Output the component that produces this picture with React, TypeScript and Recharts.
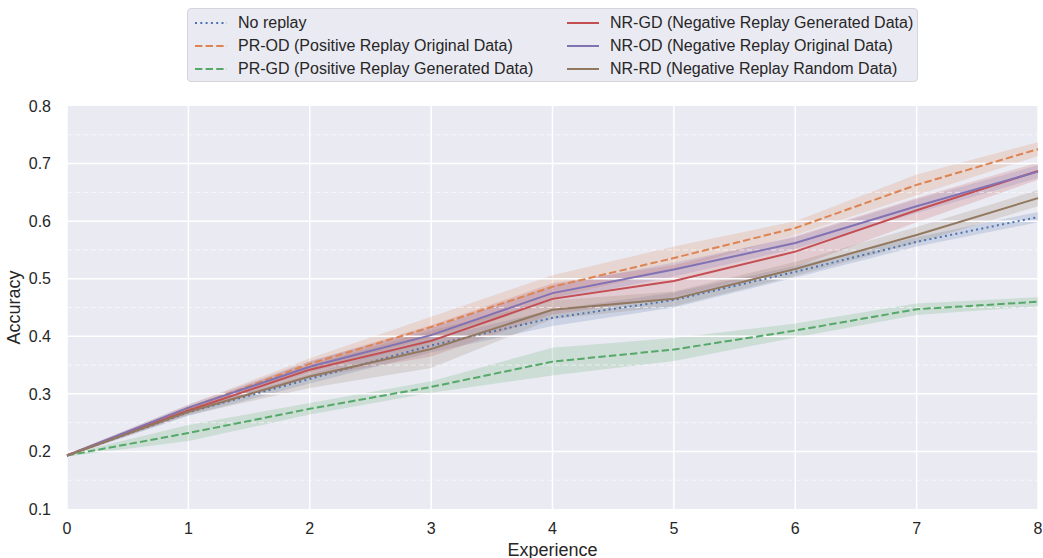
import React from "react";
import {
  ComposedChart, Line, Area, XAxis, YAxis, CartesianGrid, ReferenceLine,
} from "recharts";

// experience index (x axis)
const experiences = [0, 1, 2, 3, 4, 5, 6, 7, 8];

// mean accuracy per method, with band bounds
const noReplay = [0.193, 0.268, 0.326, 0.384, 0.432, 0.463, 0.512, 0.564, 0.607];
const noReplayLo = [0.191, 0.262, 0.318, 0.372, 0.418, 0.45, 0.502, 0.556, 0.598];
const noReplayHi = [0.195, 0.274, 0.334, 0.396, 0.446, 0.476, 0.522, 0.572, 0.616];

const prOD = [0.193, 0.275, 0.352, 0.416, 0.486, 0.536, 0.588, 0.663, 0.725];
const prODLo = [0.191, 0.269, 0.342, 0.398, 0.466, 0.516, 0.576, 0.645, 0.713];
const prODHi = [0.195, 0.281, 0.362, 0.434, 0.506, 0.556, 0.6, 0.681, 0.737];

const prGD = [0.193, 0.232, 0.274, 0.312, 0.356, 0.377, 0.41, 0.447, 0.46];
const prGDLo = [0.191, 0.218, 0.264, 0.302, 0.332, 0.357, 0.398, 0.437, 0.452];
const prGDHi = [0.195, 0.246, 0.284, 0.322, 0.38, 0.397, 0.422, 0.457, 0.468];

const nrGD = [0.193, 0.271, 0.342, 0.392, 0.465, 0.496, 0.547, 0.619, 0.687];
const nrGDLo = [0.191, 0.265, 0.328, 0.365, 0.438, 0.468, 0.52, 0.598, 0.672];
const nrGDHi = [0.195, 0.277, 0.356, 0.419, 0.492, 0.524, 0.574, 0.64, 0.702];

const nrOD = [0.193, 0.276, 0.347, 0.402, 0.475, 0.516, 0.562, 0.626, 0.686];
const nrODLo = [0.191, 0.271, 0.337, 0.39, 0.462, 0.504, 0.552, 0.614, 0.675];
const nrODHi = [0.195, 0.281, 0.357, 0.414, 0.488, 0.528, 0.572, 0.638, 0.697];

const nrRD = [0.193, 0.269, 0.33, 0.378, 0.446, 0.465, 0.517, 0.576, 0.64];
const nrRDLo = [0.191, 0.263, 0.31, 0.345, 0.43, 0.452, 0.505, 0.562, 0.626];
const nrRDHi = [0.195, 0.275, 0.35, 0.41, 0.462, 0.478, 0.529, 0.59, 0.654];

const yTicks = [0.1, 0.2, 0.3, 0.4, 0.5, 0.6, 0.7, 0.8];
const yMinor = [0.15, 0.25, 0.35, 0.45, 0.55, 0.65, 0.75];

const series = [
  { key: "nr", label: "No replay", color: "#4C72B0", mean: noReplay, lo: noReplayLo, hi: noReplayHi, dash: "2 3.3" },
  { key: "prod", label: "PR-OD (Positive Replay Original Data)", color: "#DD8452", mean: prOD, lo: prODLo, hi: prODHi, dash: "7.4 3.2" },
  { key: "prgd", label: "PR-GD (Positive Replay Generated Data)", color: "#55A868", mean: prGD, lo: prGDLo, hi: prGDHi, dash: "7.4 3.2" },
  { key: "nrgd", label: "NR-GD (Negative Replay Generated Data)", color: "#C44E52", mean: nrGD, lo: nrGDLo, hi: nrGDHi, dash: undefined },
  { key: "nrod", label: "NR-OD (Negative Replay Original Data)", color: "#8172B3", mean: nrOD, lo: nrODLo, hi: nrODHi, dash: undefined },
  { key: "nrrd", label: "NR-RD (Negative Replay Random Data)", color: "#937860", mean: nrRD, lo: nrRDLo, hi: nrRDHi, dash: undefined },
];

const data = experiences.map((x, i) => {
  const row: Record<string, any> = { x };
  series.forEach((s) => {
    row[s.key] = s.mean[i];
    row[s.key + "_band"] = [s.lo[i], s.hi[i]];
  });
  return row;
});

const FONT = "'Liberation Sans', Arial, sans-serif";
const INK = "#262626";

function LegendBox() {
  const item = (s: typeof series[number]) => (
    <div key={s.key} style={{ display: "flex", alignItems: "center", height: 23 }}>
      <svg width={34} height={10} style={{ marginRight: 10 }}>
        <line x1={1} y1={5} x2={33} y2={5} stroke={s.color} strokeWidth={2} strokeDasharray={s.dash} />
      </svg>
      <span>{s.label}</span>
    </div>
  );
  return (
    <div style={{
      position: "absolute", left: 187, top: 8, width: 731, height: 74, boxSizing: "border-box",
      background: "#EAEAF2", border: "1px solid #d4d4dc", borderRadius: 4,
      fontFamily: FONT, fontSize: 16, color: INK, display: "flex", padding: "2px 0 0 6px",
    }}>
      <div style={{ width: 372 }}>{series.slice(0, 3).map(item)}</div>
      <div>{series.slice(3).map(item)}</div>
    </div>
  );
}

export default function App() {
  return (
    <div style={{ position: "absolute", left: 0, top: 0, width: 1043, height: 558, background: "#fff" }}>
      <ComposedChart width={1043} height={558} data={data} margin={{ top: 106, right: 5, left: 0, bottom: 0 }}>
        <CartesianGrid stroke="#ffffff" strokeWidth={1.5} fill="#EAEAF2" fillOpacity={1} horizontal={false} />
        {yTicks.slice(1, -1).map((v) => (
          <ReferenceLine key={"M" + v} y={v} stroke="#ffffff" strokeWidth={1.5} />
        ))}
        {yMinor.map((v) => (
          <ReferenceLine key={"m" + v} y={v} stroke="#ffffff" strokeWidth={1} strokeOpacity={0.6} strokeDasharray="5 3" />
        ))}
        <XAxis
          dataKey="x" type="number" domain={[0, 8]} ticks={experiences} axisLine={false} tickLine={false}
          height={49} tickMargin={8}
          tick={{ fill: INK, fontSize: 16, fontFamily: FONT }}
          label={{ value: "Experience", position: "insideBottom", offset: 2, fill: INK, fontSize: 18, fontFamily: FONT }}
        />
        <YAxis
          type="number" domain={[0.1, 0.8]} ticks={yTicks} axisLine={false} tickLine={false} width={67}
          tickMargin={10} tickFormatter={(v: number) => v.toFixed(1)}
          tick={{ fill: INK, fontSize: 16, fontFamily: FONT }}
          label={{ value: "Accuracy", angle: -90, position: "insideLeft", offset: 14, fill: INK, fontSize: 18, fontFamily: FONT, style: { textAnchor: "middle" } }}
        />
        {series.map((s) => (
          <Area key={s.key + "_a"} dataKey={s.key + "_band"} type="linear" stroke="none" fill={s.color}
            fillOpacity={0.2} isAnimationActive={false} legendType="none" activeDot={false} />
        ))}
        {series.map((s) => (
          <Line key={s.key} dataKey={s.key} type="linear" stroke={s.color} strokeWidth={2}
            strokeDasharray={s.dash} dot={false} activeDot={false} isAnimationActive={false} />
        ))}
      </ComposedChart>
      <LegendBox />
    </div>
  );
}
